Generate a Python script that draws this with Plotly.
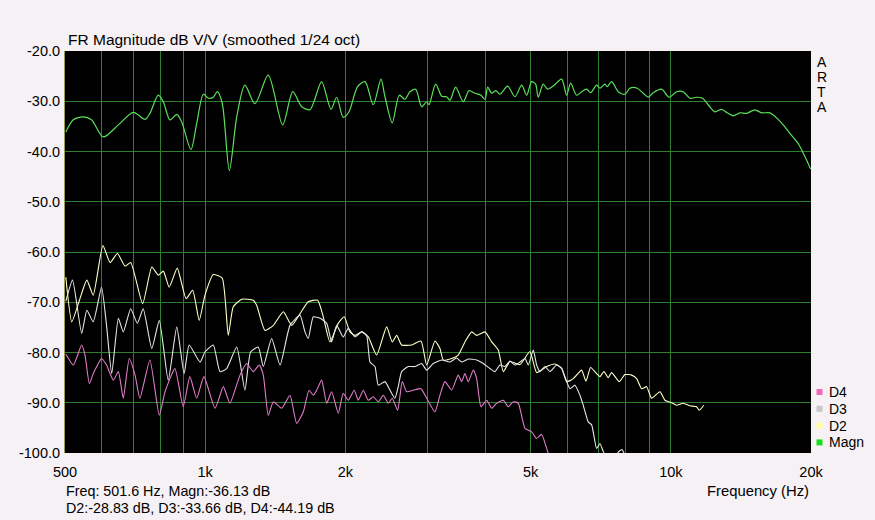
import plotly.graph_objects as go

# ---------------- data ----------------
magn_freq = [502, 521, 547, 570, 604, 651, 701, 743, 761, 793, 813, 840, 869, 890, 932, 959, 991,
             1015, 1041, 1062, 1088, 1127, 1169, 1217, 1279, 1366, 1467, 1542, 1612, 1679, 1715,
             1779, 1863, 1916, 1979, 2036, 2125, 2204, 2296, 2385, 2433, 2522, 2611, 2686, 2753,
             2832, 2917, 2990, 3024, 3126, 3220, 3300, 3355, 3451, 3583, 3686, 3797, 3911, 3989,
             4043, 4124, 4206, 4296, 4463, 4627, 4783, 4902, 5024, 5124, 5191, 5320, 5438, 5618,
             5828, 5973, 6093, 6276, 6433, 6594, 6726, 6928, 7043, 7220, 7302, 7463, 7710, 7970,
             8169, 8469, 8724, 8942, 9166, 9554, 9920, 10289, 10631, 10990, 11358, 11700, 12031,
             12434, 12853, 13214, 13614, 14072, 14546, 15154, 15666, 16322, 17005, 17432, 18018,
             18772, 19408, 19960]
magn_db = [-36.1, -33.7, -33.1, -33.7, -37.1, -34.7, -32.2, -33.6, -32.4, -28.8, -30.1, -33.7, -32.6,
           -34.1, -39.6, -34.4, -28.6, -29.4, -29.2, -28.1, -30.4, -43.8, -33.1, -26.8, -30.5, -24.8,
           -34.7, -28.1, -31.1, -31.7, -29.9, -26.1, -31.6, -29.2, -33.2, -32.1, -27.1, -26.1, -30.7,
           -25.6, -29.1, -34.3, -28.8, -29.6, -28.1, -27.6, -31.1, -30.1, -30.7, -26.6, -29.0, -29.1,
           -29.8, -27.2, -30.1, -27.9, -28.4, -28.8, -29.6, -27.2, -28.4, -27.9, -28.6, -27.0, -29.1,
           -26.8, -28.8, -26.1, -26.6, -29.2, -26.6, -27.6, -26.8, -25.6, -28.8, -26.4, -28.8, -28.1,
           -27.6, -28.3, -26.8, -27.4, -26.6, -27.1, -26.1, -28.1, -28.6, -27.4, -27.4, -28.4, -29.2,
           -28.3, -27.6, -29.2, -28.1, -28.1, -29.4, -29.2, -29.4, -30.7, -32.1, -31.6, -32.3, -32.9,
           -32.3, -32.4, -31.7, -32.3, -32.3, -33.6, -34.7, -36.4, -38.4, -41.0, -43.5]

d2_freq = [502, 517, 537, 557, 575, 603, 625, 648, 673, 692, 734, 768, 793, 813, 837, 871, 910, 940,
           971, 999, 1041, 1088, 1121, 1149, 1198, 1268, 1290, 1344, 1401, 1472, 1534, 1598, 1665,
           1744, 1793, 1853, 1931, 1989, 2046, 2097, 2168, 2240, 2335, 2453, 2522, 2578, 2642, 2776,
           2907, 2990, 3115, 3193, 3246, 3383, 3495, 3613, 3735, 3828, 3989, 4124, 4260, 4367, 4514,
           4742, 4983, 5151, 5412, 5638, 5828, 5973, 6174, 6433, 6572, 6726, 6928, 7043, 7184, 7339,
           7463, 7749, 7970, 8239, 8445, 8656, 8872, 9094, 9476, 9712, 10039, 10289, 10631, 10990,
           11358, 11507, 11778]
d2_db = [-65.0, -73.9, -69.6, -65.6, -68.6, -58.7, -62.1, -60.3, -62.8, -62.1, -70.3, -63.0, -64.6,
         -63.8, -67.0, -63.2, -69.3, -67.6, -73.6, -68.6, -64.5, -65.2, -76.6, -70.9, -69.4, -69.6,
         -70.6, -75.6, -74.6, -71.9, -74.6, -72.3, -69.9, -69.6, -72.9, -77.9, -74.2, -72.9, -75.9,
         -76.6, -75.9, -76.9, -80.5, -74.9, -77.9, -76.6, -78.5, -78.5, -77.7, -82.5, -77.7, -79.2,
         -81.5, -81.2, -80.5, -77.9, -75.9, -76.6, -75.9, -77.9, -79.5, -83.8, -81.8, -82.4, -79.8,
         -84.0, -82.8, -82.3, -83.1, -85.8, -85.2, -83.5, -85.7, -83.0, -84.2, -84.8, -83.8, -85.0,
         -84.0, -85.8, -84.4, -84.5, -85.2, -87.2, -86.8, -89.1, -87.8, -89.5, -90.0, -90.5, -90.1,
         -90.6, -90.8, -91.5, -90.5]

d3_freq = [502, 519, 543, 557, 575, 599, 614, 630, 651, 667, 692, 715, 736, 768, 797, 833, 869, 901,
           924, 975, 999, 1041, 1076, 1112, 1169, 1217, 1252, 1300, 1333, 1389, 1448, 1521, 1598,
           1638, 1665, 1707, 1765, 1824, 1869, 1916, 1979, 2029, 2097, 2168, 2222, 2259, 2315, 2354,
           2433, 2494, 2556, 2598, 2642, 2730, 2822, 2917, 2990, 3089, 3220, 3355, 3468, 3554, 3673,
           3828, 3955, 4089, 4191, 4296, 4404, 4514, 4627, 4742, 4862, 4942, 5065, 5151, 5236, 5366,
           5500, 5686, 5828, 6073, 6225, 6380, 6485, 6647, 6761, 6928, 7043, 7159, 7291, 7548, 7737,
           7853, 7970, 8085]
d3_db = [-69.8, -65.6, -76.2, -71.6, -73.9, -67.0, -74.6, -84.2, -73.2, -75.9, -71.3, -74.2, -71.3,
         -79.2, -73.6, -85.5, -74.9, -84.2, -78.5, -81.9, -79.9, -78.5, -83.8, -83.2, -78.9, -87.5,
         -79.9, -78.9, -82.8, -77.2, -82.5, -74.6, -72.6, -75.9, -77.2, -72.9, -73.2, -74.2, -77.9,
         -74.6, -76.9, -75.2, -76.9, -75.9, -76.6, -81.9, -82.8, -86.5, -85.8, -87.5, -89.1, -86.8,
         -83.8, -82.8, -82.8, -82.2, -83.5, -82.2, -81.5, -81.9, -81.1, -81.9, -81.3, -81.5, -82.2,
         -83.2, -83.8, -82.5, -82.8, -81.7, -82.5, -81.9, -81.2, -82.5, -79.5, -82.5, -83.8, -82.8,
         -83.8, -82.5, -83.2, -87.2, -86.5, -88.5, -90.5, -93.8, -94.4, -99.1, -98.1, -99.7, -101.0,
         -101.0, -99.7, -99.3, -100.5, -102.0]

d4_freq = [502, 521, 543, 552, 564, 575, 585, 599, 614, 635, 651, 667, 687, 707, 724, 761, 797, 820,
           861, 897, 927, 959, 994, 1050, 1094, 1130, 1188, 1228, 1268, 1307, 1333, 1366, 1401, 1460,
           1521, 1572, 1625, 1671, 1707, 1736, 1779, 1824, 1869, 1931, 1979, 2029, 2090, 2132, 2185,
           2240, 2296, 2354, 2412, 2473, 2522, 2590, 2650, 2708, 2798, 2907, 2990, 3115, 3193, 3273,
           3383, 3495, 3554, 3613, 3673, 3765, 3828, 3911, 4022, 4124, 4226, 4367, 4476, 4589, 4703,
           4862, 5024, 5151, 5279, 5438, 5528]
d4_db = [-80.3, -82.5, -78.5, -80.5, -86.2, -84.2, -82.8, -81.2, -82.5, -85.5, -83.8, -89.1, -81.2,
         -84.5, -89.1, -81.5, -92.5, -87.8, -83.2, -90.8, -84.8, -89.1, -84.8, -91.1, -86.8, -90.1,
         -84.5, -82.2, -83.8, -82.5, -84.5, -92.5, -89.8, -91.1, -88.5, -94.1, -91.8, -87.5, -88.5,
         -87.5, -85.5, -90.1, -87.8, -92.1, -88.1, -89.5, -87.5, -89.5, -87.5, -89.5, -88.8, -89.8,
         -88.5, -90.1, -89.1, -91.5, -85.8, -87.8, -87.5, -87.2, -89.1, -91.8, -88.5, -85.8, -87.5,
         -84.5, -85.8, -84.2, -85.8, -83.5, -85.2, -90.8, -89.5, -91.1, -90.1, -89.5, -90.8, -89.8,
         -90.1, -95.1, -95.8, -97.1, -96.3, -99.7, -101.5]

x_tick_vals = [500, 1000, 2000, 5000, 10000, 20000]
x_tick_text = ["500", "1k", "2k", "5k", "10k", "20k"]
x_grid_vals = [600, 700, 800, 900, 1000, 2000, 3000, 4000, 5000, 6000, 7000, 8000, 9000, 10000]
y_tick_vals = [-20, -30, -40, -50, -60, -70, -80, -90, -100]
y_tick_text = ["-20.0", "-30.0", "-40.0", "-50.0", "-60.0", "-70.0", "-80.0", "-90.0", "-100.0"]
y_grid_vals = [-30, -40, -50, -60, -70, -80, -90]

legend_names = ["D4", "D3", "D2", "Magn"]
legend_colors = ["#f068c0", "#c8c8c8", "#ffffa0", "#18e018"]

# ---------------- styling ----------------
FONT = "Liberation Sans, Arial, sans-serif"
BG = "#f5f1f5"
W, H = 875, 520
L, R, T, B = 65, 811, 51, 453

def px(xp):
    return (xp - L) / (R - L)

def py(yp):
    return (B - yp) / (B - T)

fig = go.Figure()
fig.add_trace(go.Scatter(x=magn_freq, y=magn_db, mode="lines", name="Magn",
                         line=dict(color="#5ae05a", width=1.2, shape="spline", smoothing=0.8)))
fig.add_trace(go.Scatter(x=d2_freq, y=d2_db, mode="lines", name="D2",
                         line=dict(color="#ffffc6", width=1.1, shape="spline", smoothing=0.5)))
fig.add_trace(go.Scatter(x=d3_freq, y=d3_db, mode="lines", name="D3",
                         line=dict(color="#e6e6e6", width=1.1, shape="spline", smoothing=0.5)))
fig.add_trace(go.Scatter(x=d4_freq, y=d4_db, mode="lines", name="D4",
                         line=dict(color="#e27ccb", width=1.1, shape="spline", smoothing=0.5)))

annotations = []
annotations.append(dict(text="FR Magnitude dB V/V (smoothed 1/24 oct)", x=px(66), y=py(40),
                        xref="paper", yref="paper", xanchor="left", yanchor="middle",
                        showarrow=False, font=dict(size=15.5, color="black", family=FONT)))
annotations.append(dict(text="Frequency (Hz)", x=px(811), y=py(491), xref="paper", yref="paper",
                        xanchor="right", yanchor="middle", showarrow=False,
                        font=dict(size=14.8, color="black", family=FONT)))
annotations.append(dict(text="Freq: 501.6 Hz, Magn:-36.13 dB", x=px(64), y=py(491),
                        xref="paper", yref="paper", xanchor="left", yanchor="middle",
                        showarrow=False, font=dict(size=14.3, color="black", family=FONT)))
annotations.append(dict(text="D2:-28.83 dB, D3:-33.66 dB, D4:-44.19 dB", x=px(64), y=py(508),
                        xref="paper", yref="paper", xanchor="left", yanchor="middle",
                        showarrow=False, font=dict(size=14.3, color="black", family=FONT)))
for ch, yc in zip("ARTA", [61.5, 77, 92.5, 107]):
    annotations.append(dict(text=ch, x=px(821.5), y=py(yc), xref="paper", yref="paper",
                            xanchor="center", yanchor="middle", showarrow=False,
                            font=dict(size=14, color="black", family=FONT)))

shapes = []
for i, (name, col) in enumerate(zip(legend_names, legend_colors)):
    yc = 392 + i * 16.8
    shapes.append(dict(type="rect", xref="paper", yref="paper",
                       x0=px(816.5), x1=px(822.5), y0=py(yc + 3), y1=py(yc - 3),
                       fillcolor=col, line=dict(width=0)))
    annotations.append(dict(text=name, x=px(827), y=py(yc), xref="paper", yref="paper",
                            xanchor="left", yanchor="middle", showarrow=False,
                            font=dict(size=14, color="black", family=FONT)))

fig.update_layout(
    width=W, height=H,
    margin=dict(l=L, r=W - R, t=T, b=H - B, pad=0),
    paper_bgcolor=BG, plot_bgcolor="black",
    showlegend=False,
    font=dict(family=FONT, size=14, color="black"),
    annotations=annotations, shapes=shapes,
    xaxis=dict(type="log", range=[2.69897, 4.30103], tickvals=x_tick_vals, ticktext=x_tick_text,
               showgrid=False, zeroline=False, showline=False,
               ticks="outside", ticklen=6, tickcolor=BG, tickfont=dict(size=14.5, family=FONT),
               minor=dict(tickmode="array", tickvals=x_grid_vals, showgrid=True,
                          gridcolor="#2d802d", gridwidth=1, ticks="")),
    yaxis=dict(range=[-100, -20], tickvals=y_tick_vals, ticktext=y_tick_text,
               showgrid=False, zeroline=False, showline=True, linecolor="#9c9c50", linewidth=1,
               ticks="outside", ticklen=1, tickcolor=BG, tickfont=dict(size=14.5, family=FONT),
               minor=dict(tickmode="array", tickvals=y_grid_vals, showgrid=True,
                          gridcolor="#2d802d", gridwidth=1, ticks="")),
)

fig.write_html("out.html")
